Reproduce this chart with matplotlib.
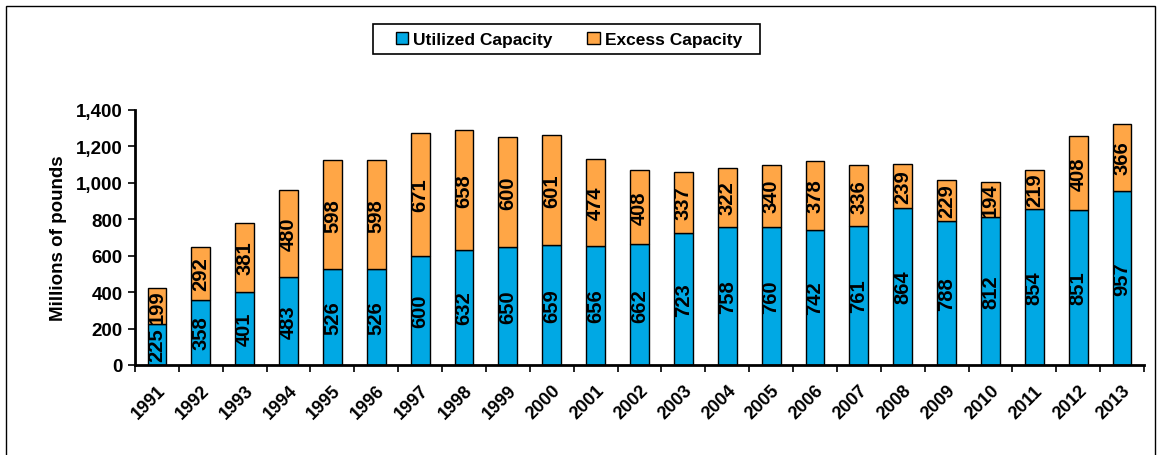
import matplotlib
matplotlib.use("Agg")
import matplotlib.pyplot as plt
from matplotlib.patches import Rectangle
import numpy as np

plt.rcParams['font.family'] = ['Liberation Sans', 'DejaVu Sans']

years = [str(y) for y in range(1991, 2014)]
utilized = [225, 358, 401, 483, 526, 526, 600, 632, 650, 659, 656, 662,
            723, 758, 760, 742, 761, 864, 788, 812, 854, 851, 957]
excess = [199, 292, 381, 480, 598, 598, 671, 658, 600, 601, 474, 408,
          337, 322, 340, 378, 336, 239, 229, 194, 219, 408, 366]

blue = '#00A8E4'
orange = '#FFA646'

fig = plt.figure(figsize=(11.58, 4.56), dpi=100)
ax = fig.add_axes([0.1166, 0.1974, 0.8713, 0.5592])

x = np.arange(len(years))
width = 0.43
b1 = ax.bar(x, utilized, width, color=blue, edgecolor='black', linewidth=1.0,
            label='Utilized Capacity')
b2 = ax.bar(x, excess, width, bottom=utilized, color=orange, edgecolor='black',
            linewidth=1.0, label='Excess Capacity')

for bars, vals, base in ((b1, utilized, [0] * len(utilized)), (b2, excess, utilized)):
    for xi, v, b in zip(x, vals, base):
        ax.text(xi, b + v / 2, str(v), rotation=90, ha='center', va='center',
                fontsize=14.5, fontweight='bold', color='black')

ax.set_xlim(-0.5, len(years) - 0.5)
ax.set_ylim(0, 1400)
ax.set_yticks(range(0, 1401, 200))
ax.set_yticklabels([f'{v:,}' for v in range(0, 1401, 200)], fontsize=13.5, fontweight='bold')
ax.set_xticks(x)
ax.set_xticklabels(years, rotation=45, ha='right', rotation_mode='anchor',
                   fontsize=13, fontweight='bold')
ax.set_xticks(np.arange(-0.5, len(years), 1), minor=True)
ax.tick_params(axis='x', which='major', length=0, pad=12)
ax.tick_params(axis='x', which='minor', length=5, width=1.2, direction='out')
ax.tick_params(axis='y', length=5, width=1.2, direction='out', pad=4)
ax.set_ylabel('Millions of pounds', fontsize=13.5, fontweight='bold', labelpad=6)

for s in ('top', 'right'):
    ax.spines[s].set_visible(False)
for s in ('left', 'bottom'):
    ax.spines[s].set_linewidth(2.0)

# legend entries without their own frame; box drawn separately below
leg = fig.legend(handles=[b1, b2], loc='center', bbox_to_anchor=(0.4914, 0.912),
                 ncol=2, frameon=False,
                 handlelength=0.7, handleheight=0.7, handletextpad=0.3,
                 columnspacing=2.0, borderpad=0, borderaxespad=0,
                 prop={'weight': 'bold', 'size': 12.5})
fig.patches.append(Rectangle((373 / 1158, 1 - 55 / 456), 387 / 1158, 30 / 456,
                             transform=fig.transFigure, fill=False,
                             edgecolor='black', linewidth=1.2))

# outer frame around the whole chart
fig.patches.append(Rectangle((0.005, -0.01), 0.992, 0.995, transform=fig.transFigure,
                             fill=False, edgecolor='black', linewidth=1.0))

fig.savefig('out.png', dpi=100)
